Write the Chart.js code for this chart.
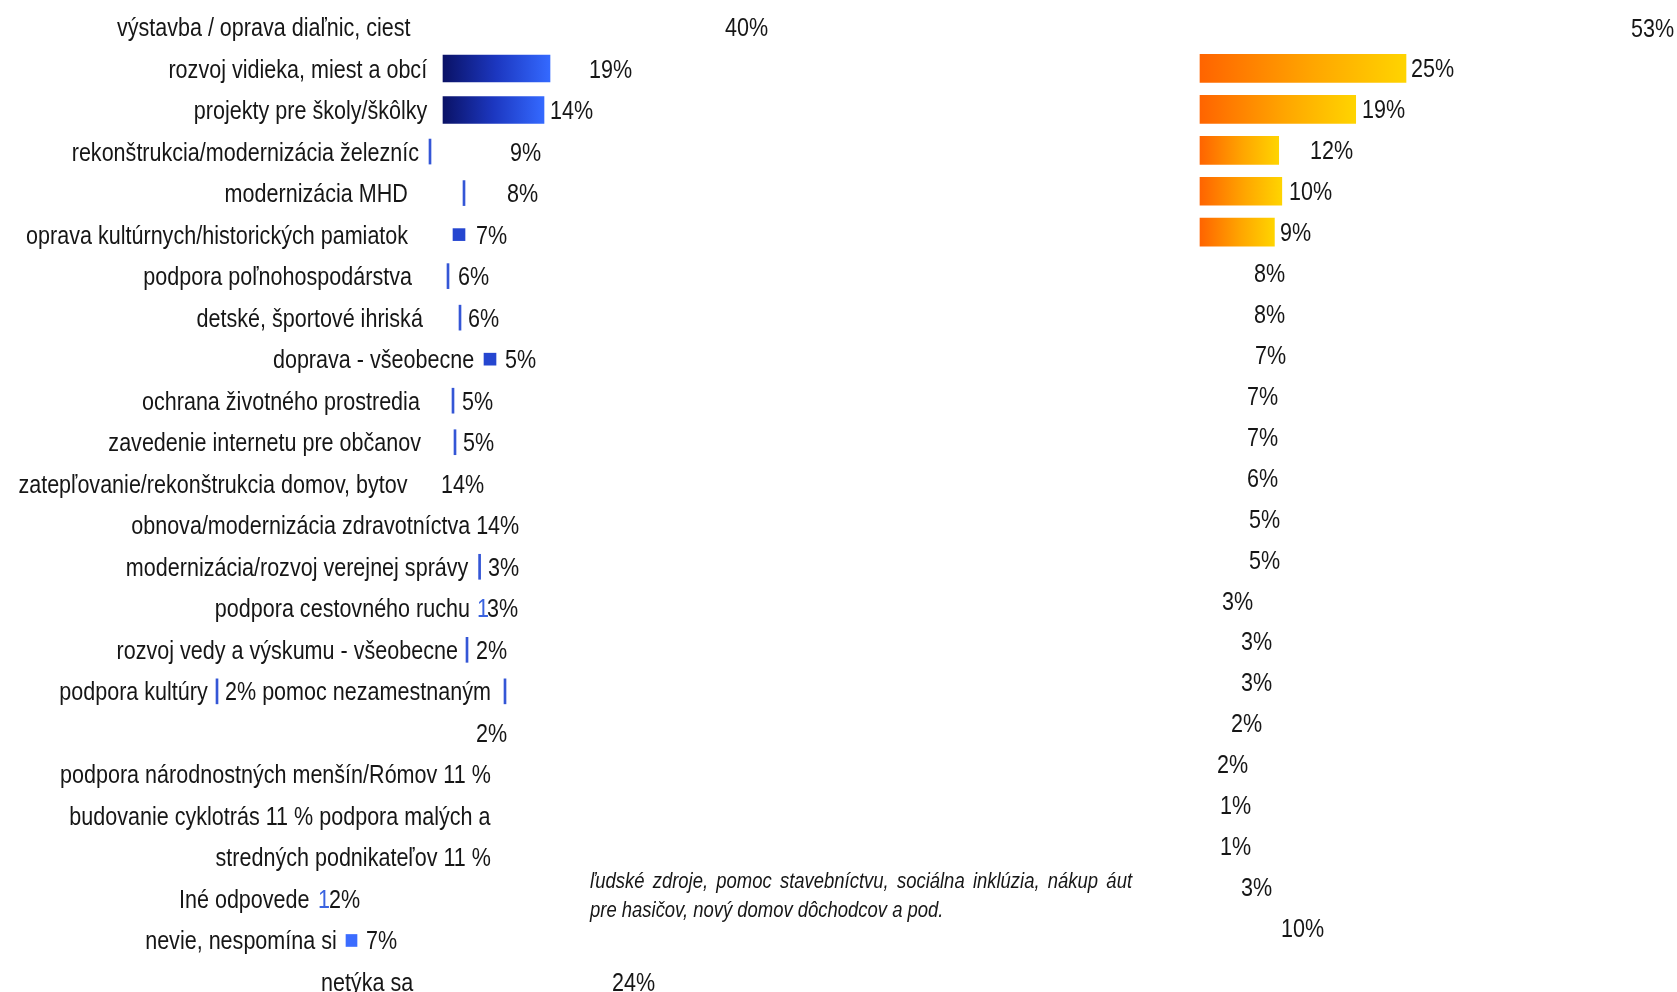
<!DOCTYPE html>
<html lang="sk">
<head>
<meta charset="UTF-8">
<title>Projekty z eurofondov</title>
<script src="https://cdn.jsdelivr.net/npm/chart.js"></script>
<style>
    body {
        margin: 0;
        width: 1677px;
        height: 992px;
        overflow: hidden;
        position: relative;
        background: #fff;
        font-family: "Liberation Sans", Arial, sans-serif;
        color: #161616;
    }
    canvas { position: absolute; left: 0; top: 0; }
    /* narrow look: Liberation Sans squeezed to the width of a narrow face */
    .t {
        position: absolute;
        font-size: 25.5px;
        line-height: 30px;
        white-space: pre;
        transform-origin: left center;
        transform: translateY(-50%) scaleX(0.845);
    }
    .t.r { transform-origin: right center; }
    .t.blue { color: #3a63e0; }
    .note {
        position: absolute;
        left: 590px;
        width: 661px;
        font-size: 22.5px;
        line-height: 29px;
        font-style: italic;
        white-space: nowrap;
        transform-origin: left center;
        transform: translateY(-50%) scaleX(0.82);
    }
    .note.just { text-align: justify; text-align-last: justify; white-space: normal; }
</style>
</head>
<body>
<canvas id="left" width="1677" height="992"></canvas>
<canvas id="right" width="1677" height="992"></canvas>
<div class="note just" style="top:880px">ľudské zdroje, pomoc stavebníctvu, sociálna inklúzia, nákup áut</div>
<div class="note" style="top:909px">pre hasičov, nový domov dôchodcov a pod.</div>

<script>
// categories as they come in the picture (one per row of the left block)
const smePart1 = 'podpora malých a';
const smePart2 = 'stredných podnikateľov';
const categories = [
    'výstavba / oprava diaľnic, ciest',
    'rozvoj vidieka, miest a obcí',
    'projekty pre školy/škôlky',
    'rekonštrukcia/modernizácia železníc',
    'modernizácia MHD',
    'oprava kultúrnych/historických pamiatok',
    'podpora poľnohospodárstva',
    'detské, športové ihriská',
    'doprava - všeobecne',
    'ochrana životného prostredia',
    'zavedenie internetu pre občanov',
    'zatepľovanie/rekonštrukcia domov, bytov',
    'obnova/modernizácia zdravotníctva',
    'modernizácia/rozvoj verejnej správy',
    'podpora cestovného ruchu',
    'rozvoj vedy a výskumu - všeobecne',
    'podpora kultúry',
    'pomoc nezamestnaným',
    'podpora národnostných menšín/Rómov',
    'budovanie cyklotrás',
    smePart1 + ' ' + smePart2,
    'Iné odpovede',
    'nevie, nespomína si',
    'netýka sa'
];
// left (blue) series, as printed
const leftValues = ['40%', '19%', '14%', '9%', '8%', '7%', '6%', '6%', '5%', '5%', '5%', '14%',
    '14%', '3%', '3%', '2%', '2%', '2%', '11 %', '11 %', '11 %', '2%', '7%', '24%'];
// right (orange) series, as printed
const rightValues = ['53%', '25%', '19%', '12%', '10%', '9%', '8%', '8%', '7%', '7%', '7%', '6%',
    '5%', '5%', '3%', '3%', '3%', '2%', '2%', '1%', '1%', '3%', '10%'];

// bar marks, [from, to] on the hidden x axis, one entry per row
const blueBars = [null, [443, 550], [443, 544]];
const blueTicks = [null, null, null, [429, 431], [463, 465], null, [447, 449], [459, 461], null,
    [452, 454], [454, 456], null, null, [478.6, 480.6], null, [466, 468], [216, 218]];
const blueTicks2 = [];
blueTicks2[16] = [504, 506];
const blueSquares = [];
blueSquares[5] = [453, 465];
blueSquares[8] = [484, 496];
blueSquares[22] = [346, 357];
const orangeBars = [null, [1200, 1406], [1200, 1355.7], [1200, 1278.7], [1200, 1281.8], [1200, 1274.4]];

function barGradient(stops) {
    return function (context) {
        const raw = context.raw;
        const chart = context.chart;
        if (!raw || !chart.chartArea) return stops[stops.length - 1][1];
        const x = chart.scales.x;
        const g = chart.ctx.createLinearGradient(x.getPixelForValue(raw[0]), 0, x.getPixelForValue(raw[1]), 0);
        stops.forEach(s => g.addColorStop(s[0], s[1]));
        return g;
    };
}

function baseOptions(padTop, padBottom) {
    return {
        indexAxis: 'y',
        responsive: false,
        animation: false,
        layout: { padding: { top: padTop, bottom: padBottom, left: 0, right: 0 } },
        plugins: { legend: { display: false }, tooltip: { enabled: false } },
        scales: {
            x: { type: 'linear', min: 0, max: 1677, display: false },
            y: { type: 'category', offset: false, display: false }
        }
    };
}

// left block: 24 rows
const leftChart = new Chart(document.getElementById('left'), {
    type: 'bar',
    data: {
        labels: categories,
        datasets: [
            {
                data: blueBars,
                barThickness: 27,
                grouped: false,
                backgroundColor: barGradient([[0, '#0a1266'], [0.5, '#1c37c0'], [1, '#3469ff']])
            },
            { data: blueTicks, barThickness: 25, grouped: false, backgroundColor: '#3456d6' },
            { data: blueTicks2, barThickness: 25, grouped: false, backgroundColor: '#3456d6' },
            {
                data: blueSquares,
                barThickness: 12,
                grouped: false,
                backgroundColor: ctx => ctx.dataIndex === 22 ? '#3b6cff' : '#2546d0'
            }
        ]
    },
    options: baseOptions(27, 10)
});

// right block: 23 slightly tighter rows
const rightChart = new Chart(document.getElementById('right'), {
    type: 'bar',
    data: {
        labels: rightValues.map((v, i) => i),
        datasets: [{
            data: orangeBars,
            barThickness: 28,
            grouped: false,
            backgroundColor: barGradient([[0, '#ff6400'], [0.55, '#ffa600'], [1, '#ffd400']])
        }]
    },
    options: baseOptions(27.5, 64)
});

// text layout: [row, x, anchor, text, class]
const V = leftValues, C = categories;
const leftText = [
    [0, 410.7, 'right', C[0]], [0, 724.5, 'left', V[0]],
    [1, 427.6, 'right', C[1]], [1, 589, 'left', V[1]],
    [2, 427.6, 'right', C[2]], [2, 550, 'left', V[2]],
    [3, 419, 'right', C[3]], [3, 510, 'left', V[3]],
    [4, 408, 'right', C[4]], [4, 506.6, 'left', V[4]],
    [5, 408, 'right', C[5]], [5, 476, 'left', V[5]],
    [6, 412, 'right', C[6]], [6, 457.6, 'left', V[6]],
    [7, 422.4, 'right', C[7]], [7, 468, 'left', V[7]],
    [8, 474.5, 'right', C[8]], [8, 505, 'left', V[8]],
    [9, 419.4, 'right', C[9]], [9, 461.7, 'left', V[9]],
    [10, 421, 'right', C[10]], [10, 463, 'left', V[10]],
    [11, 408, 'right', C[11]], [11, 441, 'left', V[11]],
    [12, 519, 'right', C[12] + ' ' + V[12]],
    [13, 468, 'right', C[13]], [13, 488, 'left', V[13]],
    [14, 470, 'right', C[14]], [14, 477, 'left', '1', 'blue'], [14, 487, 'left', V[14]],
    [15, 457.7, 'right', C[15]], [15, 476, 'left', V[15]],
    [16, 208, 'right', C[16]], [16, 224.5, 'left', V[16] + ' ' + C[17]],
    [17, 476, 'left', V[17]],
    [18, 490.8, 'right', C[18] + ' ' + V[18]],
    [19, 490.8, 'right', C[19] + ' ' + V[19] + ' ' + smePart1],
    [20, 490.8, 'right', smePart2 + ' ' + V[20]],
    [21, 309.7, 'right', C[21]], [21, 318, 'left', '1', 'blue'], [21, 329, 'left', V[21]],
    [22, 336.7, 'right', C[22]], [22, 366, 'left', V[22]],
    [23, 413, 'right', C[23]], [23, 612, 'left', V[23]]
];
const rightX = [1630.7, 1411, 1362, 1309.7, 1288.8, 1280.4, 1254, 1254, 1255, 1246.8, 1246.8, 1246.8,
    1249, 1249, 1222, 1241, 1241, 1230.6, 1217, 1220, 1220, 1241, 1281.4];

function place(text, x, y, anchor, cls) {
    const el = document.createElement('span');
    el.className = 't' + (anchor === 'right' ? ' r' : '') + (cls ? ' ' + cls : '');
    el.textContent = text;
    el.style.top = y + 'px';
    if (anchor === 'right') el.style.right = (1677 - x) + 'px';
    else el.style.left = x + 'px';
    document.body.appendChild(el);
}

const lx = leftChart.scales.x, ly = leftChart.scales.y;
const rx = rightChart.scales.x, ry = rightChart.scales.y;
leftText.forEach(t => place(t[3], lx.getPixelForValue(t[1]), ly.getPixelForValue(t[0]), t[2], t[4]));
rightValues.forEach((v, i) => place(v, rx.getPixelForValue(rightX[i]), ry.getPixelForValue(i), 'left'));
</script>
</body>
</html>
